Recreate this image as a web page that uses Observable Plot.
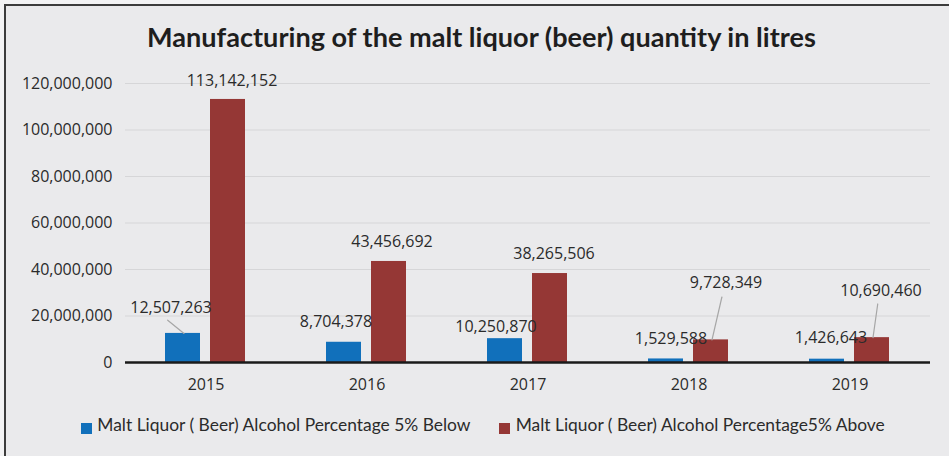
<!DOCTYPE html>
<html>
<head>
<meta charset="utf-8">
<script src="https://cdn.jsdelivr.net/npm/d3@7"></script>
<script src="https://cdn.jsdelivr.net/npm/@observablehq/plot@0.6"></script>
<style>
  html, body { margin: 0; padding: 0; background: #f3f3f4; width: 949px; height: 456px; overflow: hidden; }
  #frame { position: absolute; left: 4px; top: 4px; width: 945px; height: 452px; box-sizing: border-box;
           border-left: 2px solid #3c3c3c; border-top: 2px solid #3c3c3c; background: #eaeaec; }
  #title { position: absolute; white-space: nowrap; font-family: Lato, sans-serif; font-weight: 700; color: #1e1e1e; line-height: 1.2; }
  .leg { position: absolute; white-space: nowrap; font-family: Lato, sans-serif; color: #2b2b2b; line-height: 1.2; }
  .sw { position: absolute; width: 11px; height: 11px; }
  #chart { position: absolute; left: 0; top: 65px; }
</style>
</head>
<body>
<div id="frame"></div>
<div id="title"></div>
<div id="legend"></div>
<div id="chart"></div>
<script>
// ---- data ----
const titleText = "Manufacturing of the malt liquor (beer) quantity in litres";
const years = ["2015", "2016", "2017", "2018", "2019"];
const seriesNames = [
  "Malt Liquor ( Beer) Alcohol Percentage 5% Below",
  "Malt Liquor ( Beer) Alcohol Percentage5% Above"
];
const below = [12507263, 8704378, 10250870, 1529588, 1426643];
const above = [113142152, 43456692, 38265506, 9728349, 10690460];
const yTicks = [0, 20000000, 40000000, 60000000, 80000000, 100000000, 120000000];
const colors = ["#1170bb", "#953735"];

// ---- label layout (pixel offsets from bar top, order: below..., above...) ----
const labelDx = [-12, -8, -9, 5, 4, 4, 3, 4, 15, 9];
const labelDy = [-26, -20, -12, -20, -21, -19, -20, -20, -57, -47];
// leader lines: [index into rows, length px, angle deg]
const leaders = [[0, 21, -51], [8, 44, 13], [9, 34, 8]];

const rows = [];
seriesNames.forEach((s, si) => {
  const vals = si === 0 ? below : above;
  years.forEach((y, i) => rows.push({year: y, series: s, value: vals[i]}));
});

const fmt = d3.format(",");

// ---- title ----
const canvas = document.createElement("canvas");
const ctx = canvas.getContext("2d");
function fitSize(text, font, target) {
  ctx.font = font.replace("SIZE", "100px");
  return 100 * target / ctx.measureText(text).width;
}
const tEl = document.getElementById("title");
const tfs = fitSize(titleText, "700 SIZE Lato", 671);
tEl.textContent = titleText;
tEl.style.fontSize = tfs + "px";
tEl.style.left = "147px";
tEl.style.top = (50 - 0.987 * tfs - 0.1 * tfs) + "px";

// ---- legend ----
const legend = document.getElementById("legend");
const legX = [[80.7, 97.3, 374.4], [499, 515.7, 371]];
seriesNames.forEach((s, i) => {
  const sw = document.createElement("div");
  sw.className = "sw";
  sw.style.left = legX[i][0] + "px";
  sw.style.top = "423px";
  sw.style.background = colors[i];
  legend.appendChild(sw);
  const t = document.createElement("div");
  t.className = "leg";
  const fs = fitSize(s, "400 SIZE Lato", legX[i][2]);
  t.style.fontSize = fs + "px";
  t.style.left = legX[i][1] + "px";
  t.style.top = (434.3 - 0.987 * fs - 0.1 * fs) + "px";
  t.textContent = s;
  legend.appendChild(t);
});

// ---- chart ----
const labelMarks = rows.map((d, i) => Plot.text([d], {
  fx: "year", x: "series", y: "value", text: (r) => fmt(r.value),
  dx: labelDx[i], dy: labelDy[i], fill: "#2b2b2b", fontSize: 16, lineAnchor: "middle"
}));

const leaderShape = {draw(context, l) { context.moveTo(0, 0); context.lineTo(0, -l); }};
const leaderMarks = leaders.map(([idx, len, ang]) => Plot.vector([rows[idx]], {
  fx: "year", x: "series", y: "value", length: len, rotate: ang, anchor: "start",
  shape: leaderShape, stroke: "#a6a6a6", strokeWidth: 1.2, dx: 1
}));

const chart = Plot.plot({
  width: 949,
  height: 340,
  marginLeft: 123,
  marginRight: 17,
  marginTop: 18,
  marginBottom: 43,
  style: {fontFamily: "'Open Sans', sans-serif", fontSize: "16px", color: "#2b2b2b", background: "transparent", overflow: "visible"},
  fx: {domain: years, padding: 0, axis: "bottom", label: null, tickSize: 0, tickPadding: 16},
  x: {domain: seriesNames, axis: null, paddingInner: 0.217, paddingOuter: 0.867},
  y: {domain: [0, 120000000], ticks: yTicks, tickFormat: fmt, tickSize: 0, tickPadding: 13, label: null},
  color: {domain: seriesNames, range: colors},
  marks: [
    Plot.gridY(yTicks.slice(1), {stroke: "#d6d6d8", strokeOpacity: 1, strokeWidth: 1.2}),
    Plot.barY(rows, {fx: "year", x: "series", y: "value", fill: "series"}),
    Plot.ruleY([0], {stroke: "#1a1a1a", strokeWidth: 2.5}),
    ...leaderMarks,
    ...labelMarks
  ]
});
document.getElementById("chart").appendChild(chart);
</script>
</body>
</html>
